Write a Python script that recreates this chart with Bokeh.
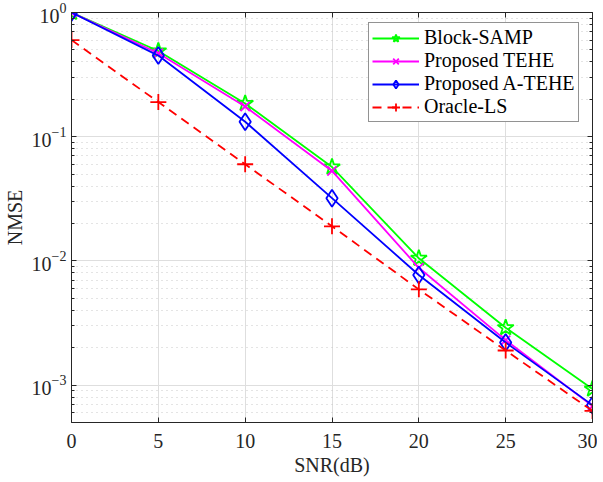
from bokeh.plotting import figure
from bokeh.models import (LinearAxis, LogAxis, Range1d, Legend, LegendItem, FixedTicker,
                          LogTicker, CustomLabelingPolicy)
from bokeh.embed import file_html
from bokeh.resources import INLINE

snr = [0, 5, 10, 15, 20, 25, 30]
block_samp = [1.0, 0.49, 0.185, 0.057, 0.0105, 0.0029, 0.00093]
tehe = [1.0, 0.47, 0.175, 0.053, 0.0088, 0.0023, 0.00068]
atehe = [1.0, 0.45, 0.132, 0.032, 0.0077, 0.0022, 0.00069]
oracle = [0.6, 0.19, 0.06, 0.019, 0.0059, 0.0019, 0.00062]
x_ticks = [0, 5, 10, 15, 20, 25, 30]

FONT = "Liberation Serif"
AX = "#262626"

p = figure(frame_width=521, frame_height=410, output_backend="svg", toolbar_location=None,
           y_axis_type="log", x_range=Range1d(0, 30), y_range=Range1d(5e-4, 1),
           min_border_left=64, min_border_right=0, min_border_top=12, min_border_bottom=44)
p.outline_line_color = None
p.background_fill_color = "white"

no_labels = CustomLabelingPolicy(code="""
for (const i of Array.from(indices)) { indices.unset(i) }
return indices
""")

def style_axis(ax, labels=True):
    ax.axis_line_color = AX
    ax.axis_line_width = 1
    ax.major_tick_in = 5
    ax.major_tick_out = 0
    ax.minor_tick_in = 3
    ax.minor_tick_out = 0
    ax.major_tick_line_color = AX
    ax.minor_tick_line_color = AX
    ax.major_label_text_font = FONT
    ax.major_label_text_font_size = "20px"
    ax.major_label_text_color = AX
    ax.axis_label_text_font = FONT
    ax.axis_label_text_font_size = "20px"
    ax.axis_label_text_font_style = "normal"
    ax.axis_label_text_color = AX
    if not labels:
        ax.major_label_policy = no_labels
        ax.major_label_standoff = 0
        ax.major_label_text_font_size = "1px"

xa = p.xaxis[0]
xa.ticker = FixedTicker(ticks=x_ticks)
xa.axis_label = "SNR(dB)"
style_axis(xa)
xa.minor_tick_line_color = None
xa.major_label_standoff = 11
xa.axis_label_standoff = 3

ya = p.yaxis[0]
ya.ticker = LogTicker(num_minor_ticks=10)
ya.axis_label = "NMSE"
style_axis(ya)
ya.major_label_standoff = 5
ya.axis_label_standoff = 3

top = LinearAxis(ticker=FixedTicker(ticks=x_ticks))
style_axis(top, labels=False)
top.minor_tick_line_color = None
p.add_layout(top, "above")

right = LogAxis(ticker=LogTicker(num_minor_ticks=10))
style_axis(right, labels=False)
p.add_layout(right, "right")

p.xgrid.ticker = FixedTicker(ticks=x_ticks)
p.xgrid.grid_line_color = "#dedede"
p.ygrid.grid_line_color = "#dedede"
p.ygrid.minor_grid_line_color = "#c8c8c8"
p.ygrid.minor_grid_line_dash = "1 4"

lw = 1.8
g1 = p.line(snr, block_samp, line_color="#00ff00", line_width=lw)
m1 = p.scatter(snr, block_samp, marker="star", size=17, line_color="#00ff00",
               fill_color=None, line_width=1.8)
g2 = p.line(snr, tehe, line_color="#ff00ff", line_width=lw)
m2 = p.scatter(snr, tehe, marker="x", size=13, line_color="#ff00ff", line_width=1.8)
g3 = p.line(snr, atehe, line_color="#0000ff", line_width=lw)
m3 = p.scatter(snr, atehe, marker="diamond", size=17, line_color="#0000ff",
               fill_color=None, line_width=1.8)
g4 = p.line(snr, oracle, line_color="#ff0000", line_width=lw, line_dash="9 6")
m4 = p.scatter(snr, oracle, marker="cross", size=16, line_color="#ff0000", line_width=1.8)

legend = Legend(items=[
    LegendItem(label="Block-SAMP", renderers=[g1, m1]),
    LegendItem(label="Proposed TEHE", renderers=[g2, m2]),
    LegendItem(label="Proposed A-TEHE", renderers=[g3, m3]),
    LegendItem(label="Oracle-LS", renderers=[g4, m4]),
], location=(297, 300))
legend.label_text_font = FONT
legend.label_text_font_size = "20px"
legend.label_text_color = "black"
legend.glyph_width = 47
legend.glyph_height = 20
legend.label_height = 20
legend.label_standoff = 5
legend.spacing = 0
legend.padding = 3
legend.margin = 0
legend.border_line_color = AX
legend.border_line_width = 1
legend.background_fill_alpha = 1
p.add_layout(legend, "center")

open("out.html", "w").write(file_html(p, INLINE))
